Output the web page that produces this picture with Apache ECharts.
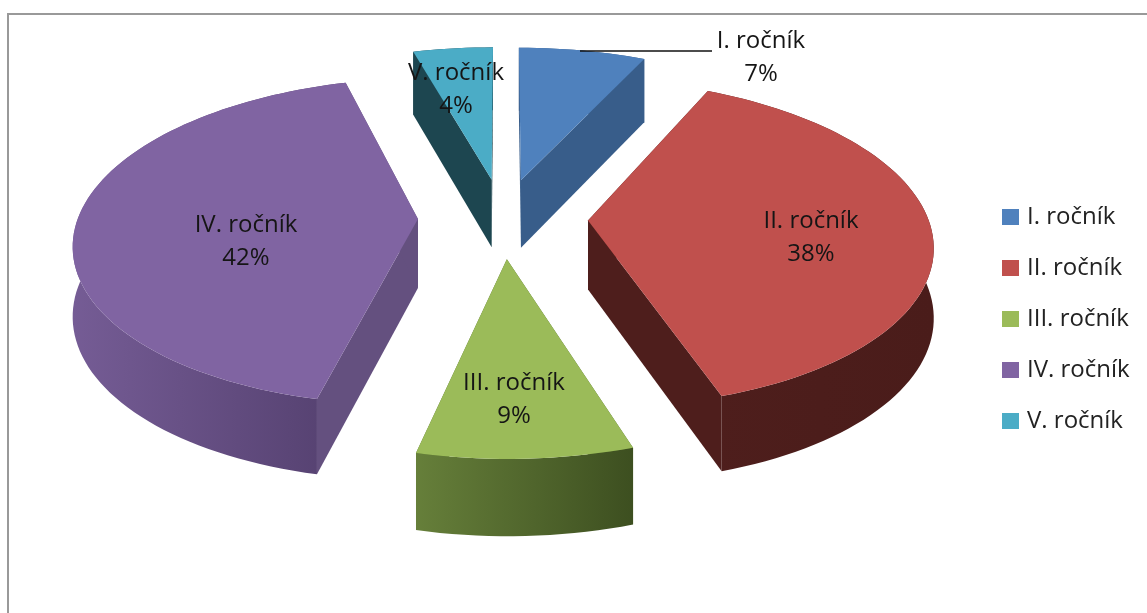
<!DOCTYPE html>
<html><head><meta charset="utf-8">
<style>html,body{margin:0;padding:0;background:#fff}#c{width:1147px;height:613px}</style>
<script src="https://cdn.jsdelivr.net/npm/echarts@6/dist/echarts.min.js"></script>
</head><body><div id="c"></div>
<script>
var categories = ['I. ročník','II. ročník','III. ročník','IV. ročník','V. ročník'];
var values = [7,38,8.6,42,4.4];
var topColors = ['#4F81BD','#C0504D','#9BBB59','#8064A2','#4BACC6'];
var cutColors = ['#385D8A','#4E1E1C','#4F6A2A','#64507F','#1D4650'];
var wallLeft  = ['#385D8A','#4E1E1C','#667F3A','#755C95','#1D4650'];
var wallRight = ['#385D8A','#4A1C1A','#3D4F20','#54406F','#1D4650'];
var labelX = [761,811,514,246,456];
var labelY = [58,238,400,242,90];

// projection of the tilted, exploded disc (unit radius) onto the page
var CX=503, CY=218, RX=340, RY=160, PERSP=0.136, EXPLODE=0.25;
var total = values.reduce(function(a,b){return a+b;},0);
var starts=[]; values.reduce(function(acc,v,i){starts[i]=acc;return acc+v;},0);

function project(u,v){
  var s=1/(1+PERSP*v);
  return [CX+RX*u*s, CY-RY*v*s];
}
function down(p){return [p[0],p[1]+63+(p[1]-50)*0.035];}

function makeRender(i){
  return function(params,api){
    var val=api.value(0);
    var t0=starts[i]/total*2*Math.PI, t1=t0+val/total*2*Math.PI, tm=(t0+t1)/2;
    var eu=EXPLODE*Math.sin(tm), ev=EXPLODE*Math.cos(tm);
    var apex=project(eu,ev), arc=[], n=Math.max(8,Math.ceil(val*2));
    for(var k=0;k<=n;k++){
      var t=t0+(t1-t0)*k/n;
      arc.push(project(eu+Math.sin(t),ev+Math.cos(t)));
    }
    var arcDown=arc.map(down);
    var wallGrad={type:'linear',x:0,y:0,x2:1,y2:0,colorStops:[{offset:0,color:wallLeft[i]},{offset:1,color:wallRight[i]}]};
    var first=arc[0], last=arc[n];
    return {type:'group',children:[
      {type:'polygon',shape:{points:[apex,first,down(first),down(apex)]},style:{fill:cutColors[i]}},
      {type:'polygon',shape:{points:[apex,last,down(last),down(apex)]},style:{fill:cutColors[i]}},
      {type:'polygon',shape:{points:arc.concat(arcDown.slice().reverse())},style:{fill:wallGrad}},
      {type:'polygon',shape:{points:[apex].concat(arc)},style:{fill:topColors[i]}}
    ]};
  };
}
function labelRender(params,api){
  var i=params.dataIndex;
  return {type:'text',z2:100,style:{x:labelX[i],y:labelY[i],text:categories[i]+'\n'+Math.round(values[i])+'%',
    align:'center',verticalAlign:'middle',fill:'#151515',lineHeight:33,
    font:'24px "Open Sans", sans-serif'}};
}
var series=categories.map(function(name,i){
  return {type:'custom',name:name,coordinateSystem:'none',animation:false,silent:true,
    itemStyle:{color:topColors[i]},
    renderItem:makeRender(i),data:[{name:name,value:[values[i]]}],z:2};
});
series.push({type:'custom',name:'labels',coordinateSystem:'none',animation:false,silent:true,
  renderItem:labelRender,data:values.map(function(v){return [v];}),z:5});

var chart=echarts.init(document.getElementById('c'),null,{renderer:'canvas'});
chart.setOption({
  backgroundColor:'#fff',animation:false,
  legend:{orient:'vertical',left:997,top:200,itemWidth:17,itemHeight:16,itemGap:27,icon:'rect',
    data:categories,selectedMode:false,
    textStyle:{fontFamily:'"Open Sans", sans-serif',fontSize:24,color:'#222',padding:[0,0,0,3]}},
  graphic:[
    {type:'polyline',shape:{points:[[8,613],[8,14],[1147,14]]},style:{stroke:'#999',lineWidth:2,fill:null},silent:true},
    {type:'line',shape:{x1:580,y1:51,x2:712,y2:51},style:{stroke:'#111',lineWidth:1.5},z:10,silent:true}
  ],
  series:series
});
</script></body></html>
